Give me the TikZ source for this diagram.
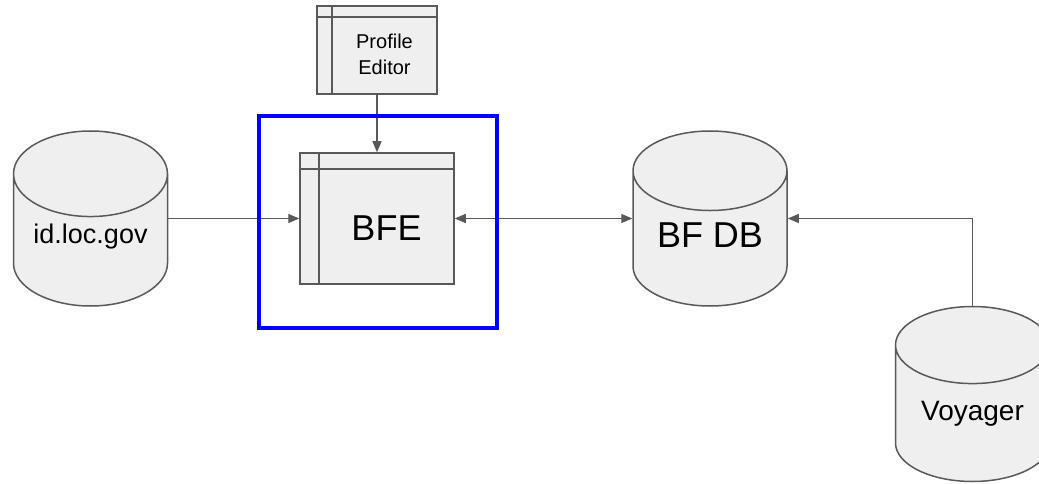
\documentclass[tikz,border=0pt]{standalone}
\usepackage{fontspec}
\setmainfont{Liberation Sans}
\usepackage{tikz}
\usepackage{xcolor}
\usetikzlibrary{shapes.geometric,arrows.meta}
\definecolor{shape-line}{HTML}{595959}
\definecolor{shape-fill}{HTML}{EFEFEF}
\newcommand{\shiftedtext}[2]{\raisebox{#1}[\height][\depth]{#2}}
\tikzset{
    db-cylinder/.style = {draw=shape-line, fill=shape-fill, line width=1.5pt, cylinder, shape border rotate=90, aspect=0.75, minimum width=154pt, minimum height=175pt, inner sep=0pt, anchor=shape center, font=\fontsize{27pt}{32pt}\selectfont},
    window-box/.style 2 args = {draw=shape-line, fill=shape-fill, line width=1.5pt, rectangle, inner sep=0pt,
        path picture={
            \draw[shape-line, line width=1.5pt] ([xshift=#1]path picture bounding box.north west) -- ([xshift=#1]path picture bounding box.south west);
            \draw[shape-line, line width=1.5pt] ([yshift=-#2]path picture bounding box.north west) -- ([yshift=-#2]path picture bounding box.north east);
        }},
    link/.style = {draw=shape-line, line width=1.3pt, -{Triangle[length=11pt,width=9pt]}},
}

\begin{document}
\begin{tikzpicture}[x=1pt, y=-1pt]
\useasboundingbox (0,0) rectangle (1039,484);
\node [db-cylinder] (idloc) at (90.5,218.5) {\shiftedtext{4pt}{id.loc.gov}};
\node [db-cylinder, font=\fontsize{36pt}{40pt}\selectfont] (bfdb) at (710,218.5) {\shiftedtext{4pt}{BF DB}};
\node [db-cylinder, font=\fontsize{28pt}{32pt}\selectfont] (voyager) at (972.5,394) {Voyager};
\node [window-box={19pt}{16pt}, minimum width=154pt, minimum height=131pt, font=\fontsize{36pt}{40pt}\selectfont] (bfe) at (377,218.5) {\hspace{19pt}\shiftedtext{-10pt}{BFE}};
\node [window-box={15pt}{11pt}, minimum width=120pt, minimum height=88pt, font=\fontsize{20pt}{25pt}\selectfont] (profile) at (377,50) {\hspace{15pt}\shiftedtext{-7pt}{\begin{tabular}{@{}c@{}}Profile\\[1pt]Editor\end{tabular}}};
% connectors
\draw [link] (idloc.shape center -| idloc.east) -- (bfe.west);
\draw [link] (profile.south) -- (bfe.north);
\draw [link, {Triangle[length=11pt,width=9pt]}-{Triangle[length=11pt,width=9pt]}] (bfe.east) -- (bfdb.shape center -| bfdb.west);
\draw [link] (voyager.north) |- (bfdb.shape center -| bfdb.east);
\node [draw=blue, line width=4pt, minimum width=238pt, minimum height=212pt] (bfe-frame) at (378,222) {};
\end{tikzpicture}
\end{document}
